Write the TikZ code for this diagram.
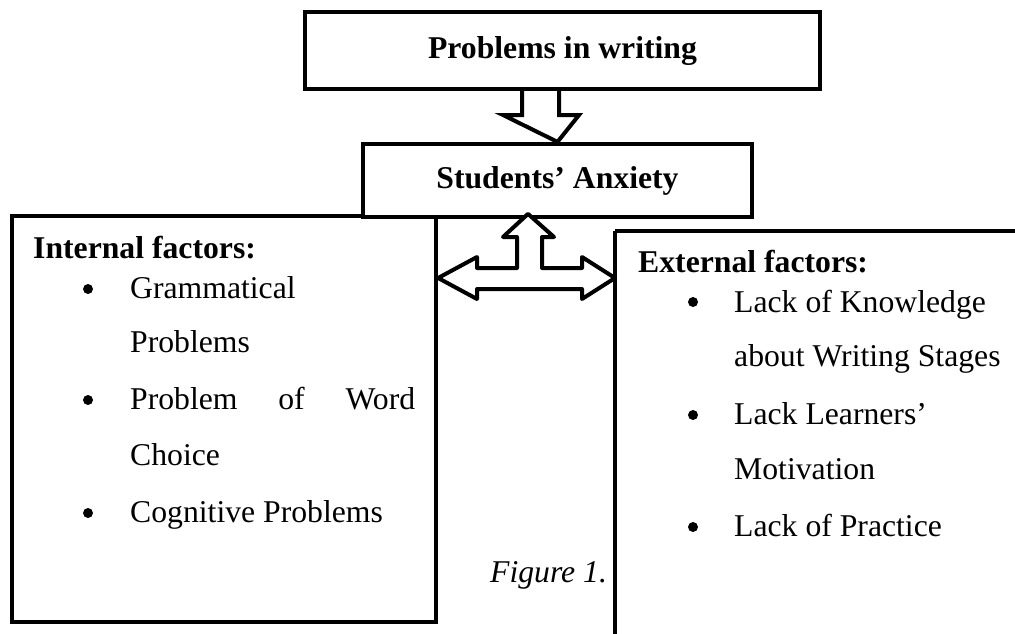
\documentclass[tikz,border=0pt]{standalone}
\usepackage{fontspec}
\setmainfont{Liberation Serif}
\begin{document}
\begin{tikzpicture}[x=1pt,y=-1pt,
  boxline/.style={draw=black,line width=4.2pt},
  hbox/.style={boxline,fill=white,inner sep=0pt},
  txt/.style={anchor=base west,inner sep=0pt,font=\fontsize{31.7}{38}\selectfont},
  btxt/.style={txt,font=\fontsize{31.7}{38}\selectfont\bfseries},
  bul/.style={circle,fill=black,inner sep=0pt,minimum size=10pt},
  arrowline/.style={draw=black,fill=white,line width=4pt}]
\useasboundingbox (0,0) rectangle (1015,633);
\begin{scope}
\clip (0,0) rectangle (1015,633);
% external box (cut off at the right and bottom)
\draw[boxline] (615,231) -- (1040,231);
\draw[boxline] (615,231) -- (615,660);
\coordinate (ext) at (615,231);
\end{scope}
% internal box
\node[hbox,minimum width=424pt,minimum height=406pt] (int) at (224,419) {};
% students box
\node[hbox,minimum width=389pt,minimum height=73pt] (anx) at (557.5,180.5)
  {\fontsize{31.7}{38}\selectfont\bfseries Students’ Anxiety};
% problems box
\node[hbox,minimum width=515pt,minimum height=77pt] (pw) at (562.5,50.5)
  {\fontsize{31.7}{38}\selectfont\bfseries Problems in writing};
% down arrow from problems to anxiety
\draw[arrowline,line join=miter]
  (pw.south -| 522,0) -- (522,115) -- (503,115) -- (anx.north) -- (579,115) -- (559,115) -- (pw.south -| 559,0);
% three-way arrow
\draw[arrowline,line join=round]
  (int.north -| 528,0) -- (554,237) -- (542,237) -- (542,268) -- (582,268) -- (582,257)
  -- (ext |- 0,278) -- (582,299) -- (582,289) -- (477,289) -- (477,299) -- (int.east |- 0,278)
  -- (477,257) -- (477,268) -- (517,268) -- (517,237) -- (503,237) -- cycle;
% internal factors text
\node[btxt] (ih) at (33,258) {Internal factors:};
\node[bul] (ib1) at (88,289) {};
\node[txt] (i1) at (130,298) {Grammatical};
\node[txt] (i1b) at (130,352) {Problems};
\node[bul] (ib2) at (88,400) {};
\node[txt] (i2) at (130,409) {\makebox[285pt][s]{Problem\hfill of\hfill Word}};
\node[txt] (i2b) at (130,465) {Choice};
\node[bul] (ib3) at (88,513) {};
\node[txt] (i3) at (130,522) {Cognitive Problems};
% external factors text
\node[btxt] (eh) at (638,272) {External factors:};
\node[bul] (eb1) at (693,302) {};
\node[txt] (e1) at (734,312) {Lack of Knowledge};
\node[txt] (e1b) at (734,366) {about Writing Stages};
\node[bul] (eb2) at (693,415) {};
\node[txt] (e2) at (734,424) {Lack Learners’};
\node[txt] (e2b) at (734,479) {Motivation};
\node[bul] (eb3) at (693,527) {};
\node[txt] (e3) at (734,536) {Lack of Practice};
% caption
\node[txt] (fig) at (490,582) {\itshape Figure 1.};
\end{tikzpicture}
\end{document}
